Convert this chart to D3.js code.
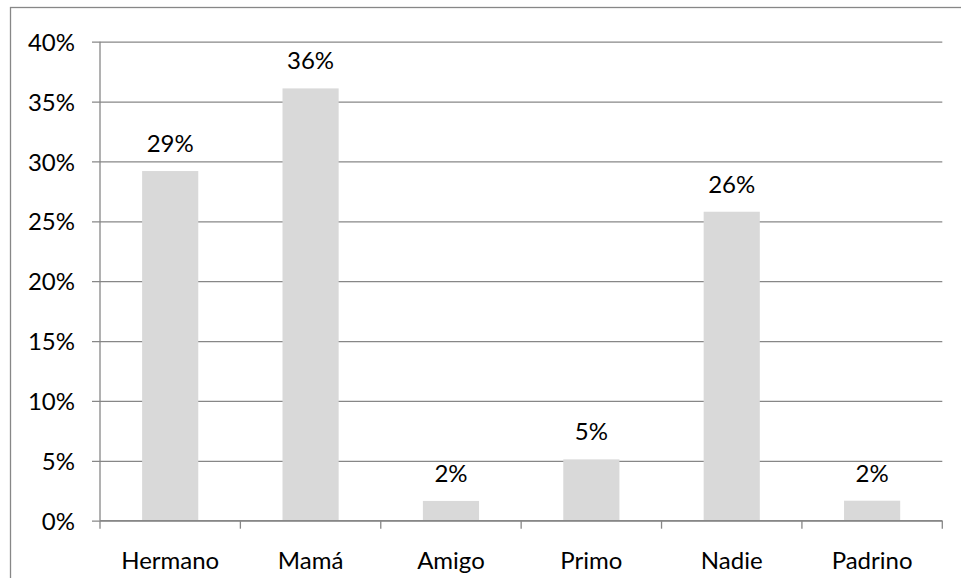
<!DOCTYPE html>
<html>
<head>
<meta charset="utf-8">
<script src="https://cdn.jsdelivr.net/npm/d3@7"></script>
<style>
  html, body { margin: 0; padding: 0; background: #fff; }
  svg { display: block; }
  text { font-family: Lato, "Open Sans", sans-serif; fill: #000; }
</style>
</head>
<body>
<svg id="chart" width="961" height="578"></svg>
<script>
const categories = ["Hermano", "Mamá", "Amigo", "Primo", "Nadie", "Padrino"];
const values = [0.292, 0.361, 0.0165, 0.0512, 0.258, 0.0167];
const yTicks = [0, 0.05, 0.10, 0.15, 0.20, 0.25, 0.30, 0.35, 0.40];

const svg = d3.select("#chart");
const W = 961, H = 578;
const plot = { left: 100, right: 942.3, top: 41.7, bottom: 520.7 };
const FS = "24px";

// outer chart border
svg.append("rect")
  .attr("x", 10.5).attr("y", 7.5)
  .attr("width", W + 10).attr("height", H + 10)
  .attr("fill", "none").attr("stroke", "#878787").attr("stroke-width", 1.3);

const y = d3.scaleLinear().domain([0, 0.4]).range([plot.bottom, plot.top]);
const x = d3.scaleBand().domain(categories)
  .range([plot.left, plot.right])
  .paddingInner(0.6).paddingOuter(0.3);
const xCat = d3.scaleBand().domain(categories).range([plot.left, plot.right]).padding(0);

// gridlines + y ticks
const yAxis = d3.axisLeft(y).tickValues(yTicks)
  .tickSize(0)
  .tickPadding(0)
  .tickFormat(d3.format(".0%"));
const gy = svg.append("g")
  .attr("transform", `translate(${plot.left},0)`)
  .call(yAxis);
gy.select(".domain").remove();
gy.selectAll(".tick line")
  .attr("x1", -8)
  .attr("x2", plot.right - plot.left)
  .attr("stroke", "#878787").attr("stroke-width", 1.3);
gy.selectAll(".tick text")
  .attr("x", -25).attr("dy", "0.36em")
  .style("font-size", FS).style("font-family", "Lato, sans-serif").attr("fill", "#000");

// vertical axis line
svg.append("line")
  .attr("x1", plot.left).attr("x2", plot.left)
  .attr("y1", plot.top).attr("y2", plot.bottom)
  .attr("stroke", "#878787").attr("stroke-width", 1.3);

// bars
svg.append("g").selectAll("rect")
  .data(categories)
  .join("rect")
  .attr("x", d => x(d))
  .attr("width", x.bandwidth())
  .attr("y", (d, i) => y(values[i]))
  .attr("height", (d, i) => y(0) - y(values[i]))
  .attr("fill", "#d9d9d9");

// x axis baseline and category-boundary ticks
svg.append("line")
  .attr("x1", plot.left).attr("x2", plot.right)
  .attr("y1", y(0)).attr("y2", y(0))
  .attr("stroke", "#878787").attr("stroke-width", 1.3);
const bounds = categories.map(c => xCat(c)).concat([xCat.range()[1]]);
svg.append("g").selectAll("line")
  .data(bounds)
  .join("line")
  .attr("x1", d => d).attr("x2", d => d)
  .attr("y1", y(0)).attr("y2", y(0) + 8)
  .attr("stroke", "#878787").attr("stroke-width", 1.3);

// category labels
const xAxis = d3.axisBottom(xCat).tickSize(0).tickPadding(31);
const gx = svg.append("g")
  .attr("transform", `translate(0,${y(0)})`)
  .call(xAxis);
gx.select(".domain").remove();
gx.selectAll(".tick text")
  .style("font-size", FS).style("font-family", "Lato, sans-serif").attr("fill", "#000");

// value labels
svg.append("g").selectAll("text")
  .data(categories)
  .join("text")
  .attr("x", d => x(d) + x.bandwidth() / 2)
  .attr("y", (d, i) => y(values[i]) - 19)
  .attr("text-anchor", "middle")
  .style("font-size", FS)
  .text((d, i) => d3.format(".0%")(values[i]));
</script>
</body>
</html>
